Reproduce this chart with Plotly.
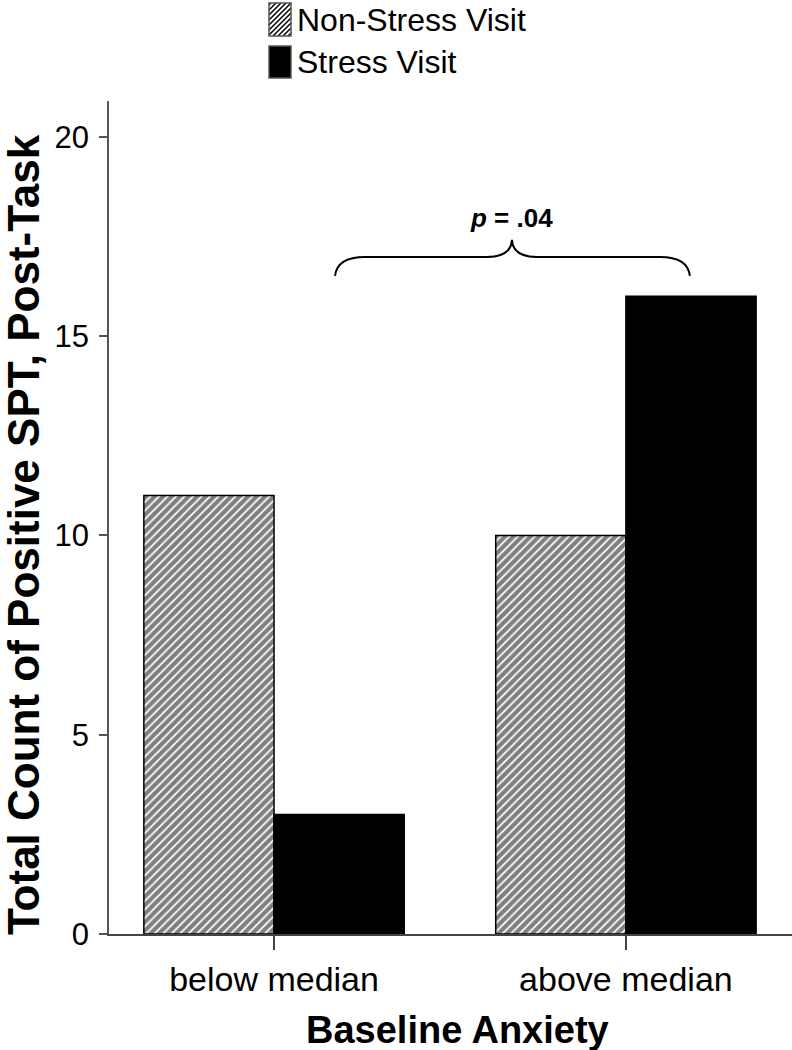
import plotly.graph_objects as go

categories = ["below median", "above median"]
series_names = ["Non-Stress Visit", "Stress Visit"]
non_stress = [11, 10]
stress = [3, 16]
y_ticks = [0, 5, 10, 15, 20]
p_label = "<b><i>p</i> = .04</b>"
x_title = "<b>Baseline Anxiety</b>"
y_title = "<b>Total Count of Positive SPT, Post-Task</b>"

FONT = "Liberation Sans, Arial, sans-serif"
W, H = 792, 1050
ML, MR, MT, MB = 109, 0, 101, 116
PW, PH = W - ML - MR, H - MT - MB

def px(xp):
    return (xp - ML) / PW

def py(yp):
    return (H - MB - yp) / PH

xpos = list(range(len(categories)))

fig = go.Figure()
fig.add_trace(go.Bar(
    x=xpos, y=non_stress, name=series_names[0],
    marker=dict(color="white", line=dict(color="black", width=1.5),
                pattern=dict(shape="/", size=6, solidity=0.7,
                             fgcolor="black", bgcolor="white")),
    showlegend=False,
))
fig.add_trace(go.Bar(
    x=xpos, y=stress, name=series_names[1],
    marker=dict(color="black", line=dict(color="black", width=1.5)),
    showlegend=False,
))

# brace (data coords)
def bx(p):
    return (p - 274) / 352.0

def by(p):
    return (934 - p) / 39.85

brace = (
    f"M {bx(335)},{by(276)} "
    f"Q {bx(337)},{by(257)} {bx(365)},{by(257)} "
    f"L {bx(487)},{by(257)} "
    f"Q {bx(511)},{by(257)} {bx(512)},{by(240)} "
    f"Q {bx(513)},{by(257)} {bx(537)},{by(257)} "
    f"L {bx(660)},{by(257)} "
    f"Q {bx(688)},{by(257)} {bx(690)},{by(276)}"
)
fig.add_shape(type="path", path=brace, xref="x", yref="y",
              line=dict(color="black", width=2))
fig.add_annotation(x=bx(512), y=by(218), xref="x", yref="y", text=p_label,
                   showarrow=False, font=dict(family=FONT, size=26, color="black"),
                   xanchor="center", yanchor="middle")

# custom legend
bx0, bx1 = 269, 291
rows = [(3, 36), (46, 78)]
y0, y1 = rows[0]
segs = []
step = 5
c = bx0 + y0 + 2
while c < bx1 + y1:
    pts = []
    for xx in (bx0, bx1):
        yy = c - xx
        if y0 <= yy <= y1:
            pts.append((xx, yy))
    for yy in (y0, y1):
        xx = c - yy
        if bx0 <= xx <= bx1:
            pts.append((xx, yy))
    pts = sorted(set(pts))
    if len(pts) >= 2:
        (a, b), (d, e) = pts[0], pts[-1]
        segs.append(f"M {px(a)},{py(b)} L {px(d)},{py(e)}")
    c += step
fig.add_shape(type="path", path=" ".join(segs), xref="paper", yref="paper",
              line=dict(color="black", width=1.5))
fig.add_shape(type="rect", x0=px(bx0), x1=px(bx1), y0=py(y1), y1=py(y0),
              xref="paper", yref="paper", line=dict(color="#555", width=1.5))
y0, y1 = rows[1]
fig.add_shape(type="rect", x0=px(bx0), x1=px(bx1), y0=py(y1), y1=py(y0),
              xref="paper", yref="paper", fillcolor="black",
              line=dict(color="#555", width=1.5))
for name, (r0, r1) in zip(series_names, rows):
    fig.add_annotation(x=px(296), y=py((r0 + r1) / 2), xref="paper", yref="paper",
                       text=name, showarrow=False, xanchor="left", yanchor="middle",
                       borderpad=0, font=dict(family=FONT, size=32, color="black"))

# axis titles
fig.add_annotation(x=px(457), y=py(1030), xref="paper", yref="paper", text=x_title,
                   showarrow=False, xanchor="center", yanchor="middle",
                   font=dict(family=FONT, size=38, color="black"))
fig.add_annotation(x=px(23), y=py(535), xref="paper", yref="paper", text=y_title,
                   showarrow=False, xanchor="center", yanchor="middle", textangle=-90,
                   font=dict(family=FONT, size=44, color="black"))

fig.update_layout(
    width=W, height=H,
    margin=dict(l=ML, r=MR, t=MT, b=MB, autoexpand=False),
    paper_bgcolor="white", plot_bgcolor="white",
    barmode="group", bargap=0.26, bargroupgap=0,
    font=dict(family=FONT, color="black"),
)
fig.update_xaxes(
    range=[-0.469, 1.472], tickvals=xpos, ticktext=categories, automargin=False,
    showgrid=False, zeroline=False, showline=True, linecolor="#444", linewidth=1.5,
    ticks="outside", ticklen=14, tickwidth=1.5, tickcolor="#444",
    tickfont=dict(family=FONT, size=34, color="black"),
)
fig.update_yaxes(
    range=[0, 20.9], tickvals=y_ticks, automargin=False,
    showgrid=False, zeroline=False, showline=True, linecolor="#555", linewidth=1.5,
    ticks="outside", ticklen=8, tickwidth=1.5, tickcolor="#555",
    tickfont=dict(family=FONT, size=31, color="black"),
    ticklabelstandoff=4,
)

fig.write_html("out.html", config={"displayModeBar": False},
               post_script="document.body.style.margin='0';")
